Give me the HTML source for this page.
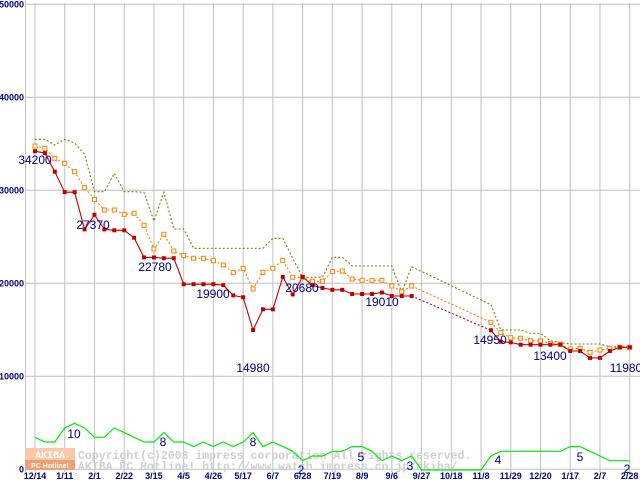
<!DOCTYPE html>
<html><head><meta charset="utf-8"><style>
html,body{margin:0;padding:0;background:#fff;}
svg{display:block;font-family:"Liberation Sans","DejaVu Sans",sans-serif;}
</style></head><body>
<svg id="chart" width="640" height="480" viewBox="0 0 640 480" xmlns="http://www.w3.org/2000/svg">
<g id="grid"></g>
<g id="wm">
  <rect x="25" y="448" width="50" height="12" fill="#f8c8a8"/>
  <rect x="25" y="460" width="50" height="10" fill="#f0a070"/>
  <text x="50" y="458" font-size="10" font-weight="bold" fill="#fff" text-anchor="middle" font-family="Liberation Mono,monospace">AKIBA</text>
  <text x="50" y="468" font-size="7" font-weight="bold" fill="#fff" text-anchor="middle">PC Hotline!</text>
  <text x="78" y="459" font-size="11.5" font-weight="bold" fill="#d0d0d0" font-family="Liberation Mono,monospace">Copyright(c)2003 impress corporation All rights reserved.</text>
  <text x="78" y="470" font-size="11.5" font-weight="bold" fill="#d0d0d0" font-family="Liberation Mono,monospace">AKIBA PC Hotline!  http://www.watch.impress.co.jp/akiba/</text>
</g>
<g id="series"></g>
<g id="labels"></g>
</svg>
<script>
const xLabels=["12/14","1/11","2/1","2/22","3/15","4/5","4/26","5/17","6/7","6/28","7/19","8/9","9/6","9/27","10/18","11/8","11/29","12/20","1/17","2/7","2/28"];
const yTicks=[0,10000,20000,30000,40000,50000];
const minPrice=[34200,34000,32000,29800,29800,25800,27370,25800,25700,25700,24900,22780,22780,22700,22700,19900,19900,19900,19900,19800,18700,18500,14980,17200,17200,20680,18800,20680,19800,19500,19300,19300,18850,18850,18850,19010,18630,18630,18630,null,null,null,null,null,null,null,14950,13720,13650,13400,13400,13400,13400,13400,12720,12720,11980,11980,12720,13120,13120];
const avgPrice=[34760,34520,33440,32900,32000,30280,29030,27880,27880,27420,27530,26240,23690,25270,23470,22970,22690,22690,22430,21970,21140,21610,19390,21180,21610,22470,20650,20650,20220,20220,21250,21320,20460,20320,20320,20320,19710,19100,19710,null,null,null,null,null,null,null,15810,14690,14150,14090,13830,13800,13550,13450,12940,13010,12580,12830,13010,13120,13120];
const maxPrice=[35480,35480,34870,35480,35090,33850,29850,29850,31830,29850,29850,29780,26700,29780,25840,25840,23760,23760,23760,23760,23760,23760,23760,23760,24840,24840,22690,20650,20650,20650,22800,22800,21860,21860,21860,21860,21860,19030,21780,null,null,null,null,null,null,null,17700,15000,14980,14980,14620,14620,13830,13610,13470,13470,13470,13470,13180,13180,13180];
const shopCount=[7,6,6,9,10,9,7,7,9,8,7,6,6,8,6,6,5,6,5,6,5,6,8,5,6,5,4,2,3,3,4,4,5,5,4,2,3,2,3,0,0,0,0,0,0,0,3,4,4,4,4,4,4,4,5,5,4,3,2,2,2];
const priceNotes=[[0,"34200",35,164],[6,"27370",93,229],[11,"22780",155,271],[15,"19900",213,298],[22,"14980",253,372],[25,"20680",302,292],[35,"19010",382,306],[46,"14950",490,344],[49,"13400",550,360],[56,"11980",626,372]];
const countNotes=[[4,"10",74,438],[13,"8",163,446],[22,"8",253,446],[27,"2",301,474],[33,"5",361,461],[37,"3",410,470],[47,"4",498,464],[54,"5",580,461],[60,"2",627,473]];

const NS="http://www.w3.org/2000/svg";
const X=i=>35+i*(594.7/60);
const Y=v=>469.3-v*0.0093;
const YC=c=>470-c*4.67;
function mk(tag,attrs,parent){const e=document.createElementNS(NS,tag);for(const k in attrs)e.setAttribute(k,attrs[k]);parent.appendChild(e);return e;}
const grid=document.getElementById('grid'),ser=document.getElementById('series'),lab=document.getElementById('labels');

yTicks.forEach(v=>{
  const l=mk('line',{x1:25,x2:640,y1:Y(v),y2:Y(v),stroke:'#c0c0c0','stroke-width':1},grid);
  
  
  const t=mk('text',{x:24,y:Y(v)+3,'font-size':9,'font-weight':'bold',fill:'#000080','text-anchor':'end'},grid);
  t.textContent=String(v);
  
  
});
const ax=mk('line',{x1:25.5,x2:25.5,y1:0,y2:472,stroke:'#c0c0c0','stroke-width':1},grid);


xLabels.forEach((s,k)=>{
  const x=X(k*3);
  const l=mk('line',{x1:x,x2:x,y1:3,y2:472,stroke:'#c0c0c0','stroke-width':1},grid);
  
  
  const t=mk('text',{x:x,y:479,'font-size':9,'font-weight':'bold',fill:'#000080','text-anchor':'middle'},grid);
  t.textContent=s;
  
  
});

function segs(arr,yf){const solid=[];let cur=[];const gaps=[];let last=null;
  arr.forEach((v,i)=>{if(v==null){if(cur.length){solid.push(cur);cur=[];}}else{if(last!=null&&last!==i-1)gaps.push([last,i]);cur.push([X(i),yf(v)]);last=i;}});
  if(cur.length)solid.push(cur);return {solid,gaps};}
const pts=p=>p.map(q=>q[0].toFixed(1)+','+q[1].toFixed(1)).join(' ');

const g=mk('polyline',{points:pts(shopCount.map((c,i)=>[X(i),YC(c)])),fill:'none',stroke:'#00ee00','stroke-width':1.2},ser);



function drawLine(arr,color,dash,name){
  const s=segs(arr,Y);
  s.solid.forEach(p=>{const e=mk('polyline',{points:pts(p),fill:'none',stroke:color,'stroke-width':1.1},ser);
    if(dash)e.setAttribute('stroke-dasharray',dash);
    
    });
  s.gaps.forEach(([a,b])=>{const e=mk('line',{x1:X(a),y1:Y(arr[a]),x2:X(b),y2:Y(arr[b]),stroke:color,'stroke-width':1.1,'stroke-dasharray':'2,2'},ser);
    
    });
}
drawLine(maxPrice,'#808000','2,2','max-price-line');
drawLine(avgPrice,'#ff8000','2,2','avg-price-line');
drawLine(minPrice,'#c00000',null,'min-price-line');
avgPrice.forEach((v,i)=>{if(v==null)return;
  const r=mk('rect',{x:X(i)-2,y:Y(v)-2,width:4,height:4,fill:'#fff',stroke:'#ff8000','stroke-width':1},ser);
  
  });
minPrice.forEach((v,i)=>{if(v==null)return;
  const r=mk('rect',{x:X(i)-2,y:Y(v)-2,width:4,height:4,fill:'#c00000'},ser);
  
  });

priceNotes.forEach(n=>{
  const t=mk('text',{x:n[2],y:n[3],'font-size':12,fill:'#000080','text-anchor':'middle'},lab);
  t.textContent=n[1];
  
  
});
countNotes.forEach(n=>{
  const t=mk('text',{x:n[2],y:n[3],'font-size':12,fill:'#000080','text-anchor':'middle'},lab);
  t.textContent=n[1];
  
  
});
</script>
</body></html>
